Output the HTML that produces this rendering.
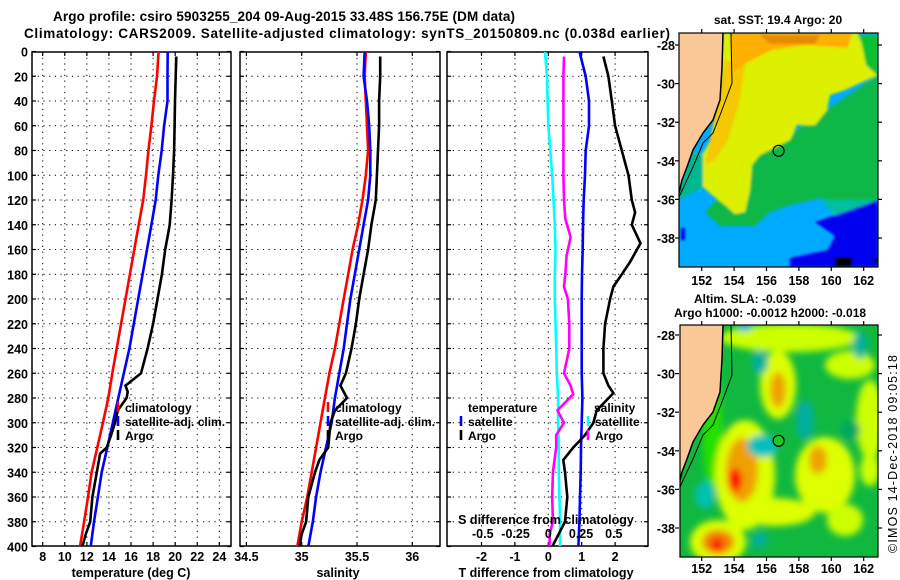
<!DOCTYPE html>
<html><head><meta charset="utf-8"><style>
html,body{margin:0;padding:0;background:#fff;}
svg{display:block;font-family:"Liberation Sans",sans-serif;font-weight:bold;}
</style></head><body>
<svg id="chart" width="900" height="580" viewBox="0 0 900 580" xmlns="http://www.w3.org/2000/svg">
<defs>
<clipPath id="c1"><rect x="32" y="52" width="199" height="494"/></clipPath>
<clipPath id="c2"><rect x="240" y="52" width="200" height="494"/></clipPath>
<clipPath id="c3"><rect x="447" y="52" width="201" height="494"/></clipPath>
<clipPath id="m1"><rect x="679" y="33" width="199" height="234"/></clipPath>
<clipPath id="m2"><rect x="680" y="325" width="198" height="232"/></clipPath>
<filter id="blur" x="-20%" y="-20%" width="140%" height="140%"><feGaussianBlur stdDeviation="3.5"/></filter>
<filter id="blur2"><feGaussianBlur stdDeviation="1.2"/></filter>
</defs>
<text x="53" y="21" font-size="13.5" textLength="462">Argo profile: csiro 5903255_204 09-Aug-2015 33.48S 156.75E (DM data)</text>
<text x="24" y="38" font-size="13.5" textLength="646">Climatology: CARS2009. Satellite-adjusted climatology: synTS_20150809.nc (0.038d earlier)</text>
<g id="g1"></g>
<g id="g2"></g>
<g id="g3"></g>

<!-- Map 1: SST -->
<g>
<text x="778" y="24" font-size="12" text-anchor="middle">sat. SST: 19.4 Argo: 20</text>
<g clip-path="url(#m1)">
<rect x="679" y="33" width="199" height="234" fill="#00aaff"/>
<g filter="url(#blur2)">
<polygon fill="#10b848" points="750,165 760,155 878,75 878,205 850,205 820,198 790,205 770,212 755,226 720,226 705,212"/>
<polygon fill="#00c0a0" points="820,200 878,200 878,215 840,220"/>
<polygon fill="#ddf000" points="723,33 858,33 862,45 870,60 878,75 845,90 830,95 827,110 815,125 797,125 790,140 760,155 752,165 750,190 745,212 735,214 725,205 712,195 703,187 700,175 695,165 705,150 713,135 720,110"/>
<polygon fill="#f5c800" points="725,60 745,65 740,100 728,140 715,160 705,165 712,130"/>
<polygon fill="#ffb000" points="730,33 852,33 848,48 805,45 772,50 748,62 732,72"/>
<polygon fill="#e88a00" points="760,35 820,35 815,44 770,44"/>
<polygon fill="#10c030" points="860,35 878,35 878,76 866,65"/>
<polygon fill="#00b890" points="693,150 703,155 703,187 688,195 679,200 679,190"/>
<polygon fill="#0000ee" points="815,222 845,212 878,200 878,267 790,267 790,258 828,250 835,236"/>
<rect x="681" y="228" width="4" height="12" fill="#0000ee"/>
<rect x="835" y="257" width="17" height="10" fill="#000"/>
<rect x="874" y="258" width="4" height="5" fill="#000"/>
</g>
<polygon fill="#f9c896" points="679,33 723,33 722,67 720,100 713,120 703,133 693,150 687,167 682,180 679,193"/>
<polyline fill="none" stroke="#000" stroke-width="1.5" points="723,33 722,67 720,100 713,120 703,133 693,150 687,167 682,180 679,193"/>
<polyline fill="none" stroke="#000" stroke-width="1" points="731,33 732,83 722,110 713,133 703,143 693,167 679,197"/>
<circle cx="778.6" cy="150.8" r="5.5" fill="none" stroke="#000" stroke-width="1.2"/>
</g>
<rect x="679" y="33" width="199" height="234" fill="none" stroke="#000" stroke-width="1.2"/>
<g id="m1ticks"></g>
</g>

<!-- Map 2: SLA -->
<g>
<text x="745" y="303" font-size="12" text-anchor="middle">Altim. SLA: -0.039</text>
<text x="770" y="317" font-size="12" text-anchor="middle">Argo h1000: -0.0012 h2000: -0.018</text>
<g clip-path="url(#m2)">
<rect x="680" y="325" width="198" height="232" fill="#10b840"/>
<g filter="url(#blur)">
<ellipse cx="712" cy="420" rx="10" ry="70" fill="#22e000"/>
<ellipse cx="790" cy="338" rx="70" ry="14" fill="#ccff00"/>
<ellipse cx="850" cy="365" rx="25" ry="14" fill="#ccff00"/>
<ellipse cx="870" cy="420" rx="14" ry="40" fill="#ccff00"/>
<ellipse cx="778" cy="385" rx="18" ry="34" fill="#ddff00"/>
<ellipse cx="778" cy="390" rx="8" ry="18" fill="#f0a000"/>
<ellipse cx="745" cy="475" rx="30" ry="55" fill="#ddff00"/>
<ellipse cx="742" cy="470" rx="16" ry="32" fill="#f0a000"/>
<ellipse cx="735" cy="480" rx="7" ry="12" fill="#ff0000"/>
<ellipse cx="775" cy="512" rx="40" ry="14" fill="#ddff00"/>
<ellipse cx="718" cy="542" rx="28" ry="22" fill="#ddff00"/>
<ellipse cx="718" cy="542" rx="16" ry="12" fill="#f08000"/>
<ellipse cx="717" cy="545" rx="6" ry="7" fill="#ff0000"/>
<ellipse cx="825" cy="475" rx="30" ry="38" fill="#ddff00"/>
<ellipse cx="818" cy="460" rx="9" ry="14" fill="#f0a000"/>
<ellipse cx="845" cy="520" rx="18" ry="16" fill="#ccff00"/>
<ellipse cx="870" cy="470" rx="10" ry="16" fill="#ccff00"/>
<ellipse cx="763" cy="446" rx="16" ry="11" fill="#00c0c0"/>
<ellipse cx="805" cy="420" rx="9" ry="20" fill="#00b0a0"/>
<ellipse cx="705" cy="495" rx="10" ry="14" fill="#00c0b0"/>
<ellipse cx="760" cy="362" rx="8" ry="12" fill="#00b0a0"/>
<ellipse cx="860" cy="345" rx="7" ry="14" fill="#00b0a0"/>
<ellipse cx="850" cy="430" rx="10" ry="10" fill="#00a860"/>
<ellipse cx="760" cy="540" rx="8" ry="8" fill="#00b0a0"/>
<ellipse cx="745" cy="327" rx="7" ry="4" fill="#00a0e0"/>
</g>
<polygon fill="#f9c896" points="680,325 723,325 722,359 720,392 713,412 703,425 693,442 687,459 682,472 680,485"/>
<polyline fill="none" stroke="#000" stroke-width="1.5" points="723,325 722,359 720,392 713,412 703,425 693,442 687,459 682,472 679,485"/>
<polyline fill="none" stroke="#000" stroke-width="1" points="731,325 732,375 722,402 713,425 703,435 693,459 679,489"/>
<circle cx="778.6" cy="440.8" r="5.5" fill="#22c822" stroke="#000" stroke-width="1.2"/>
</g>
<rect x="680" y="325" width="198" height="232" fill="none" stroke="#000" stroke-width="1.2"/>
<g id="m2ticks"></g>
</g>
<text transform="translate(897,553) rotate(-90)" font-size="12.5" font-weight="normal" textLength="198">©IMOS 14-Dec-2018 09:05:18</text>
</svg>
<script>
// ---- data ----
const depthTicks = [0,20,40,60,80,100,120,140,160,180,200,220,240,260,280,300,320,340,360,380,400];
const climDepth = [0,20,40,60,80,100,120,140,160,180,200,220,240,260,280,300,320,340,360,380,400];
const tempClim = [18.5,18.35,18.08,17.85,17.57,17.36,17.1,16.7,16.3,15.9,15.5,15.1,14.7,14.3,13.94,13.45,12.95,12.43,12.1,11.75,11.38];
const tempSat = [19.32,19.3,19.3,19.0,18.78,18.47,18.24,17.85,17.45,17.05,16.65,16.25,15.85,15.35,14.85,14.35,13.85,13.34,13.0,12.65,12.35];
const argoTDepth = [4,20,40,60,80,100,120,140,150,160,180,200,220,240,260,270,275,280,290,300,310,320,325,340,360,380,390,400];
const tempArgo = [20.1,20.05,19.98,19.95,19.9,19.8,19.68,19.5,19.3,19.1,18.8,18.4,18.0,17.5,16.9,15.5,15.7,15.6,14.8,14.55,14.2,13.8,13.2,12.9,12.5,12.3,11.9,11.6];
const salClim = [35.58,35.57,35.58,35.59,35.60,35.58,35.55,35.51,35.46,35.42,35.38,35.34,35.3,35.25,35.21,35.17,35.13,35.09,35.05,35.0,34.96];
const salSat = [35.57,35.56,35.59,35.61,35.62,35.62,35.6,35.56,35.52,35.48,35.44,35.41,35.38,35.34,35.30,35.27,35.22,35.17,35.13,35.1,35.06];
const argoSDepth = [4,20,40,60,80,100,120,140,160,180,200,220,240,260,270,280,290,300,320,330,340,360,380,390,400];
const salArgo = [35.71,35.71,35.70,35.70,35.69,35.68,35.67,35.63,35.6,35.56,35.52,35.49,35.45,35.4,35.35,35.41,35.3,35.26,35.24,35.16,35.12,35.06,35.04,35.0,34.98];
const tDiffSat = [0.93,1.12,1.22,1.22,1.12,1.1,1.06,1.04,1.03,1.01,1.0,1.0,1.0,1.0,1.02,1.0,0.98,0.97,0.95,0.93,0.9];
const argoDiffDepth = [4,20,40,60,80,100,120,130,140,155,170,180,190,200,220,240,260,270,276,290,300,310,320,330,340,360,380,400];
const tDiffArgo = [1.65,1.8,1.9,2.0,2.2,2.4,2.5,2.6,2.5,2.76,2.45,2.2,1.95,1.85,1.7,1.65,1.65,1.8,1.95,1.45,1.35,1.1,0.75,0.45,0.5,0.57,0.5,0.12];
const sDiffSat = [-0.025,-0.01,-0.005,0.0,0.015,0.03,0.04,0.05,0.055,0.05,0.05,0.055,0.06,0.065,0.075,0.075,0.08,0.08,0.085,0.09,0.09];
const sArgoDepth = [4,20,40,60,80,100,120,135,150,165,180,190,200,220,240,260,270,277,290,300,310,320,340,360,380,390,400];
const sDiffArgo = [0.12,0.115,0.115,0.115,0.115,0.115,0.12,0.13,0.17,0.14,0.13,0.12,0.15,0.16,0.16,0.12,0.17,0.19,0.07,0.12,0.06,0.06,0.035,0.03,0.035,0.01,0.01];
const tempTicks = [8,10,12,14,16,18,20,22,24];
const salTicks = [34.5,35,35.5,36];
const tDiffTicks = [-2,-1,0,1,2];
const sDiffTickLabels = ["-0.5","-0.25","0","0.25","0.5"];
const sDiffTicks = [-0.5,-0.25,0,0.25,0.5];
const lonTicks = [152,154,156,158,160,162];
const latTicks = [-28,-30,-32,-34,-36,-38];

// ---- scales ----
const NS = "http://www.w3.org/2000/svg";
const yD = d => 51.5 + d*1.2375;
const xT = t => 42.7 + (t-8)*11.04;
const xS = s => 246.4 + (s-34.5)*110.6;
const xTD = t => 548.3 + t*33.4;
const xSD = s => 548.3 + s*131;
const lonX = l => 701.7 + (l-152)*16.2;
const latY1 = l => 45 + (-28-l)*19.3;
const latY2 = l => 335 + (-28-l)*19.3;

function mk(tag, attrs, parent){const e=document.createElementNS(NS,tag);for(const k in attrs)e.setAttribute(k,attrs[k]);parent.appendChild(e);return e;}
function txt(parent,x,y,s,anchor,size){const t=mk('text',{x:x,y:y,'font-size':size||12,'text-anchor':anchor||'start'},parent);t.textContent=s;return t;}

function panel(g, x0, x1, xticks, xscale, clip){
  mk('rect',{x:x0,y:52,width:x1-x0,height:494,fill:'#fff'},g);
  const grid = mk('g',{stroke:'#000','stroke-width':1,'stroke-dasharray':'1.2,4.5'},g);
  depthTicks.forEach(d=>{ if(d>0&&d<400) mk('line',{x1:x0,x2:x1,y1:yD(d),y2:yD(d)},grid); });
  xticks.forEach(v=>{ const x=xscale(v); if(x>x0+2&&x<x1-2) mk('line',{x1:x,x2:x,y1:52,y2:546},grid); });
  const tk = mk('g',{stroke:'#000','stroke-width':1.2},g);
  depthTicks.forEach(d=>{ mk('line',{x1:x0,x2:x0+4,y1:yD(d),y2:yD(d)},tk); mk('line',{x1:x1,x2:x1-4,y1:yD(d),y2:yD(d)},tk); });
  xticks.forEach(v=>{ const x=xscale(v); mk('line',{x1:x,x2:x,y1:546,y2:542},tk); mk('line',{x1:x,x2:x,y1:52,y2:56},tk); });
  mk('rect',{x:x0,y:52,width:x1-x0,height:494,fill:'none',stroke:'#000','stroke-width':1.5},g);
  return mk('g',{'clip-path':'url(#'+clip+')'},g);
}
function series(g, depths, vals, xscale, color, name){
  const pts = depths.map((d,i)=>xscale(vals[i]).toFixed(1)+','+yD(d).toFixed(1)).join(' ');
  const p = mk('polyline',{points:pts,fill:'none',stroke:color,'stroke-width':2.6,'stroke-linejoin':'miter'},g);
  
  
}
function legendBar(g,x,y,color){ mk('line',{x1:x,x2:x,y1:y-10,y2:y,stroke:color,'stroke-width':2.6},g); }

// panel 1
const g1=document.getElementById('g1');
const p1=panel(g1,32,231,tempTicks,xT,'c1');
series(p1,climDepth,tempClim,xT,'#ff0000','temp-climatology-line');
series(p1,climDepth,tempSat,xT,'#0000ff','temp-satellite-line');
series(p1,argoTDepth,tempArgo,xT,'#000000','temp-argo-line');
depthTicks.forEach(d=>{ const t=txt(g1,28,yD(d)+5,String(d),'end',12.5);
    });
tempTicks.forEach(v=>{ const t=txt(g1,xT(v),561,String(v),'middle',12.5);
    });
let t=txt(g1,131,577,'temperature (deg C)','middle',12.5);
 
const lg1=mk('g',{},g1);
 
legendBar(lg1,118,412,'#ff0000'); legendBar(lg1,118,426,'#0000ff'); legendBar(lg1,118,440,'#000');
txt(lg1,125,412,'climatology'); txt(lg1,125,426,'satellite-adj. clim.'); txt(lg1,125,440,'Argo');

// panel 2
const g2=document.getElementById('g2');
const p2=panel(g2,240,440,salTicks,xS,'c2');
series(p2,climDepth,salClim,xS,'#ff0000','sal-climatology-line');
series(p2,climDepth,salSat,xS,'#0000ff','sal-satellite-line');
series(p2,argoSDepth,salArgo,xS,'#000000','sal-argo-line');
salTicks.forEach(v=>{ const t=txt(g2,xS(v),561,String(v),'middle',12.5);
    });
t=txt(g2,338,577,'salinity','middle',12.5);
 
const lg2=mk('g',{},g2);
 
legendBar(lg2,328,412,'#ff0000'); legendBar(lg2,328,426,'#0000ff'); legendBar(lg2,328,440,'#000');
txt(lg2,335,412,'climatology'); txt(lg2,335,426,'satellite-adj. clim.'); txt(lg2,335,440,'Argo');

// panel 3
const g3=document.getElementById('g3');
const p3=panel(g3,447,648,tDiffTicks,xTD,'c3');
series(p3,climDepth,sDiffSat,xSD,'#00ffff','sal-diff-satellite-line');
series(p3,sArgoDepth,sDiffArgo,xSD,'#ff00ff','sal-diff-argo-line');
series(p3,climDepth,tDiffSat,xTD,'#0000ff','temp-diff-satellite-line');
series(p3,argoDiffDepth,tDiffArgo,xTD,'#000000','temp-diff-argo-line');
tDiffTicks.forEach(v=>{ const t=txt(g3,xTD(v),561,String(v),'middle',12.5);
    });
t=txt(g3,546,577,'T difference from climatology','middle',12.5);
 
t=txt(g3,546,524,'S difference from climatology','middle',12.5);
 
sDiffTicks.forEach((v,i)=>{ const t=txt(g3,xSD(v),538,sDiffTickLabels[i],'middle',12.5);
    });
const lg3=mk('g',{},g3);
 
txt(lg3,468,412,'temperature'); legendBar(lg3,461,426,'#0000ff'); legendBar(lg3,461,440,'#000');
txt(lg3,468,426,'satellite'); txt(lg3,468,440,'Argo');
txt(lg3,594,412,'salinity'); legendBar(lg3,588,426,'#00ffff'); legendBar(lg3,588,440,'#ff00ff');
txt(lg3,595,426,'satellite'); txt(lg3,595,440,'Argo');

// map ticks
function mapTicks(id, yTop, yBot, latY, lonLabelY){
  const g=document.getElementById(id);
  const tk=mk('g',{stroke:'#000','stroke-width':1.2},g);
  lonTicks.forEach(l=>{ const x=lonX(l); mk('line',{x1:x,x2:x,y1:yTop-4,y2:yTop},tk); mk('line',{x1:x,x2:x,y1:yBot,y2:yBot+4},tk);
    const t=txt(g,x,lonLabelY,String(l),'middle',12.5);
      });
  latTicks.forEach(l=>{ const y=latY(l); mk('line',{x1:675,x2:679,y1:y,y2:y},tk); mk('line',{x1:878,x2:882,y1:y,y2:y},tk);
    const t=txt(g,675,y+5,String(l),'end',12.5);
      });
}
mapTicks('m1ticks',33,267,latY1,285);
mapTicks('m2ticks',325,557,latY2,573);
</script>
</body></html>
